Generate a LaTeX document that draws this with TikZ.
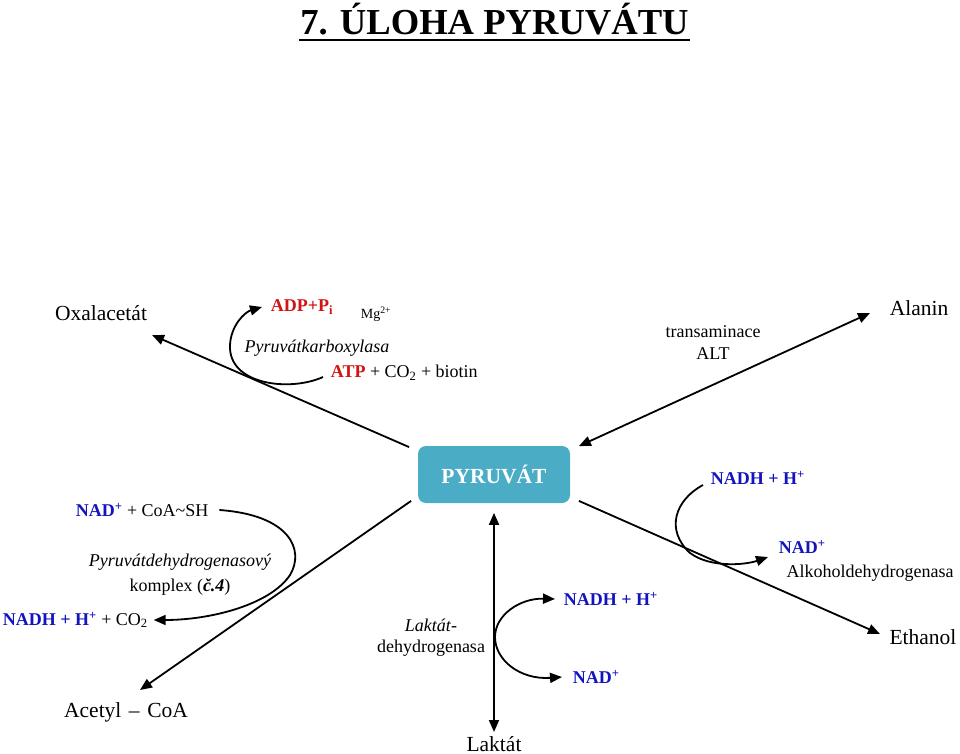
\documentclass[tikz,border=0pt]{standalone}
\usepackage{fontspec}
\setmainfont{Liberation Serif}
\usetikzlibrary{arrows.meta}

\definecolor{atpred}{RGB}{210,20,20}
\definecolor{nadblue}{RGB}{20,20,190}
\definecolor{pyrfill}{RGB}{75,172,198}

\begin{document}
\begin{tikzpicture}[x=1pt,y=-1pt,
        >={Triangle[length=12pt,width=10pt]},
        line width=1.8pt,
        big/.style={font=\fontsize{21.5}{24}\selectfont, inner sep=2pt},
        small/.style={font=\fontsize{18}{20}\selectfont, inner sep=2pt},
        pyrbox/.style={fill=pyrfill, rounded corners=8pt, text=white,
            minimum width=152pt, minimum height=57pt,
            font=\fontsize{21.5}{24}\selectfont\bfseries}]
        \useasboundingbox (0,0) rectangle (960,754);

        % title
        \node[font=\fontsize{36.6}{40}\selectfont\bfseries, inner sep=0, anchor=base] (title) at (494.5,35) {7. ÚLOHA PYRUVÁTU};
        \draw[line width=2.5pt] ([yshift=-5pt]title.base west)--([yshift=-5pt]title.base east);

        \node[pyrbox] (pyr) at (494,474.5) {PYRUVÁT};

        % products
        \node[big] (oxa) at (101,313) {Oxalacetát};
        \node[big] (ala) at (919,308) {Alanin};
        \node[big] (acc) at (126,712) {Acetyl\hspace{0.35em}--\hspace{0.35em}CoA};
        \node[big, anchor=base] (lak) at (494,751) {Laktát};
        \node[big] (eth) at (923,637) {Ethanol};

        \coordinate (oxa-tip) at (152,335);
        \coordinate (ala-tip) at (870,313);
        \coordinate (acc-tip) at (140,690);
        \coordinate (eth-tip) at (880,634);
        \coordinate (lak-tip) at (494,732);

        \draw[->] ([shift={(-8,2)}]pyr.north west)--(oxa-tip);
        \draw[<->] ([shift={(8,1)}]pyr.north east)--(ala-tip);
        \draw[->] ([shift={(-6,-3)}]pyr.south west)--(acc-tip);
        \draw[->] ([shift={(8,-3)}]pyr.south east)--(eth-tip);
        \draw[<->] ([yshift=-9pt]pyr.south)--(lak-tip);

        % pyruvatkarboxylasa
        \node[small, anchor=west] (adp) at (268,307) {\textcolor{atpred}{\textbf{ADP+P\textsubscript{i}}}};
        \node[font=\fontsize{14}{16}\selectfont, inner sep=1pt] (mg) at (376,314) {Mg\textsuperscript{2+}};
        \node[small] (pc) at (317,348) {\textit{Pyruvátkarboxylasa}};
        \node[small, anchor=west] (atp) at (328,373) {\textcolor{atpred}{\textbf{ATP}} + CO\textsubscript{2} + biotin};
        \draw[->] ([shift={(-5,4)}]atp.west) .. controls (290,392) and (228,385) .. (230,345)
            .. controls (231,325) and (245,312) .. ([xshift=-6pt]adp.west);

        % transaminace
        \node[small] (tra) at (713,332) {transaminace};
        \node[small] (alt) at (713,354) {ALT};

        % pyruvatdehydrogenasa
        \node[small, anchor=west] (coa) at (73,510) {\textcolor{nadblue}{\textbf{NAD\textsuperscript{+}}} + CoA\textasciitilde SH};
        \node[small] (pdh) at (180,562) {\textit{Pyruvátdehydrogenasový}};
        \node[small] (kom) at (180,587) {komplex (\textbf{\textit{č.4}})};
        \node[small, anchor=west] (nadh-a) at (0,620) {\textcolor{nadblue}{\textbf{NADH + H\textsuperscript{+}}} + CO\textsubscript{2}};
        \draw[->] ([xshift=8pt]coa.east) .. controls (290,515) and (305,550) .. (290,575)
            .. controls (270,605) and (210,620) .. ([xshift=3pt]nadh-a.east);

        % laktatdehydrogenasa
        \node[small] (ldh-a) at (431,625) {\textit{Laktát}-};
        \node[small] (ldh-b) at (431,648) {dehydrogenasa};
        \node[small, anchor=west] (nadh-b) at (561,599) {\textcolor{nadblue}{\textbf{NADH + H\textsuperscript{+}}}};
        \node[small, anchor=west] (nad-b) at (570,677) {\textcolor{nadblue}{\textbf{NAD\textsuperscript{+}}}};
        \draw[<->] ([xshift=-6pt]nadh-b.west) .. controls (520,598) and (495,615) .. (495,637)
            .. controls (495,660) and (520,680) .. ([xshift=-8pt]nad-b.west);

        % alkoholdehydrogenasa
        \node[small, anchor=west] (nadh-c) at (708,478) {\textcolor{nadblue}{\textbf{NADH + H\textsuperscript{+}}}};
        \node[small, anchor=west] (nad-c) at (776,547) {\textcolor{nadblue}{\textbf{NAD\textsuperscript{+}}}};
        \node[small] (adh) at (870,573) {Alkoholdehydrogenasa};
        \draw[->] ([shift={(-5,7)}]nadh-c.west) .. controls (675,500) and (665,530) .. (690,553)
            .. controls (710,568) and (745,565) .. ([shift={(-8,10)}]nad-c.west);
    \end{tikzpicture}
\end{document}
